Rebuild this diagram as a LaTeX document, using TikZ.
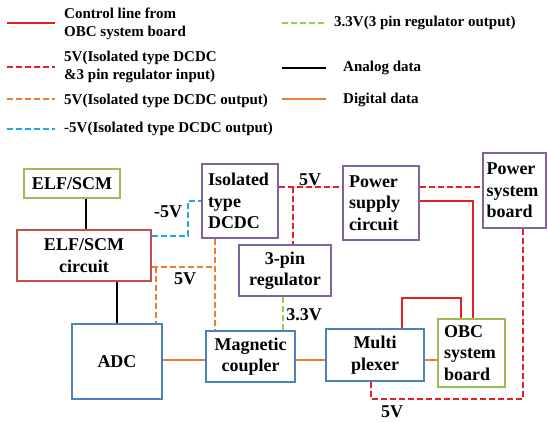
\documentclass[tikz,border=0pt]{standalone}
\usepackage{fontspec}
\setmainfont{Liberation Serif}
\definecolor{cred}{RGB}{232,30,37}
\definecolor{corange}{RGB}{237,125,49}
\definecolor{ccyan}{RGB}{30,170,225}
\definecolor{cgreen}{RGB}{146,208,80}
\definecolor{bgreen}{RGB}{155,187,89}
\definecolor{bred}{RGB}{192,80,77}
\definecolor{bpurple}{RGB}{128,100,162}
\definecolor{bblue}{RGB}{79,129,189}
\tikzset{
  box/.style={draw, line width=1.6pt, inner sep=0pt, align=center,
    font=\fontsize{18}{21.5}\selectfont\bfseries},
  lbox/.style={box, align=left, inner xsep=6pt},
  dashpat/.style={dash pattern=on 6pt off 3pt},
  ctrl/.style={cred, line width=2.4pt},
  r5v/.style={cred, line width=2.4pt, dashpat},
  p5v/.style={corange, line width=2.4pt, dashpat},
  n5v/.style={ccyan, line width=2.4pt, dashpat},
  g33/.style={cgreen, line width=2.4pt, dashpat},
  analog/.style={black, line width=2.4pt},
  dig/.style={corange, line width=2.4pt},
  lbl/.style={font=\fontsize{18}{21.5}\selectfont\bfseries, inner sep=0pt},
  legtext/.style={font=\fontsize{15}{18.5}\selectfont\bfseries, inner sep=0pt, anchor=west, align=left}
}
\begin{document}
\begin{tikzpicture}[x=1pt,y=-1pt]
\useasboundingbox (0,0) rectangle (548,421);
% legend
\draw[ctrl] (7,23) -- (55,23);
\node[legtext] (t1) at (64,24) {Control line from\\OBC system board};
\draw[r5v] (7,67) -- (55,67);
\node[legtext] (t2) at (64,67) {5V(Isolated type DCDC\\\&3 pin regulator input)};
\draw[p5v] (7,99) -- (55,99);
\node[legtext] (t3) at (64,101) {5V(Isolated type DCDC output)};
\draw[n5v] (7,129) -- (55,129);
\node[legtext] (t4) at (64,129) {-5V(Isolated type DCDC output)};
\draw[g33] (282,23) -- (326,23);
\node[legtext] (t5) at (334,23) {3.3V(3 pin regulator output)};
\draw[analog] (282,68) -- (326,68);
\node[legtext] (t6) at (343,68) {Analog data};
\draw[dig] (282,99) -- (326,99);
\node[legtext] (t7) at (343,100) {Digital data};
% boxes
\node[box, draw=bgreen, minimum width=96pt, minimum height=29pt] (elf) at (72,183.5) {ELF/SCM};
\node[box, draw=bred, minimum width=134pt, minimum height=51pt] (circ) at (84,255.5) {ELF/SCM\\circuit};
\node[lbox, draw=bpurple, text width=64pt, minimum height=74pt] (dcdc) at (240,201) {Isolated\\type\\DCDC};
\node[box, draw=bpurple, minimum width=92pt, minimum height=51pt] (reg) at (285,270.5) {3-pin\\regulator};
\node[box, draw=bblue, minimum width=90pt, minimum height=75pt] (adc) at (117,361.5) {ADC};
\node[box, draw=bblue, minimum width=89pt, minimum height=51pt] (mag) at (250.5,356.5) {Magnetic\\coupler};
\node[lbox, draw=bpurple, text width=64pt, minimum height=74pt] (psc) at (381,203) {Power\\supply\\circuit};
\node[lbox, draw=bpurple, text width=56pt, inner xsep=3.5pt, minimum height=75pt] (psb) at (514.5,190.5) {Power\\system\\board};
\node[box, draw=bblue, minimum width=98pt, minimum height=52pt] (mux) at (375,355) {Multi\\plexer};
\node[lbox, draw=bgreen, text width=55pt, minimum height=68pt] (obc) at (471.5,353) {OBC\\system\\board};
% coordinates
\coordinate (cy) at (188,236);
\coordinate (oj) at (215,267);
\coordinate (oa) at (156,267);
\coordinate (rj) at (293,187);
\coordinate (rb) at (371,399);
% connectors
\draw[analog] ([xshift=14pt]elf.south) -- ([xshift=2pt]circ.north);
\draw[analog] ([xshift=33pt]circ.south) -- (adc.north);
\draw[n5v] ([yshift=19.5pt]circ.east) -- (cy) |- (dcdc.west);
\draw[p5v] ([xshift=-25pt]dcdc.south) -- ([xshift=-35.5pt]mag.north);
\draw[p5v] ([yshift=-11.5pt]circ.east) -- (oj);
\draw[p5v] (oa) -- ([xshift=39pt]adc.north);
\draw[r5v] ([yshift=14pt]dcdc.east) -- ([yshift=16pt]psc.west);
\draw[r5v] (rj) -- ([xshift=8pt]reg.north);
\draw[r5v] ([yshift=16pt]psc.east) -- ([yshift=3.5pt]psb.west);
\draw[r5v] ([xshift=8.5pt]psb.south) |- (rb) -- ([xshift=-4pt]mux.south);
\draw[g33] ([xshift=-2pt]reg.south) -- ([xshift=32.5pt]mag.north);
\draw[dig] ([yshift=1.5pt]adc.east) -- ([yshift=-3.5pt]mag.west);
\draw[dig] ([yshift=-3.5pt]mag.east) -- ([yshift=-5pt]mux.west);
\draw[dig] ([yshift=-5pt]mux.east) -- ([yshift=-7pt]obc.west);
\draw[ctrl] ([yshift=2pt]psc.east) -| ([xshift=1.5pt]obc.north);
\draw[ctrl] ([xshift=27pt]mux.north) -- ++(0,-30) -| ([xshift=-10.5pt]obc.north);
% labels
\node[lbl] (l1) at (168,212) {-5V};
\node[lbl] (l2) at (185,279) {5V};
\node[lbl] (l3) at (310,180) {5V};
\node[lbl] (l4) at (304,315) {3.3V};
\node[lbl] (l5) at (392,412) {5V};
\end{tikzpicture}
\end{document}
